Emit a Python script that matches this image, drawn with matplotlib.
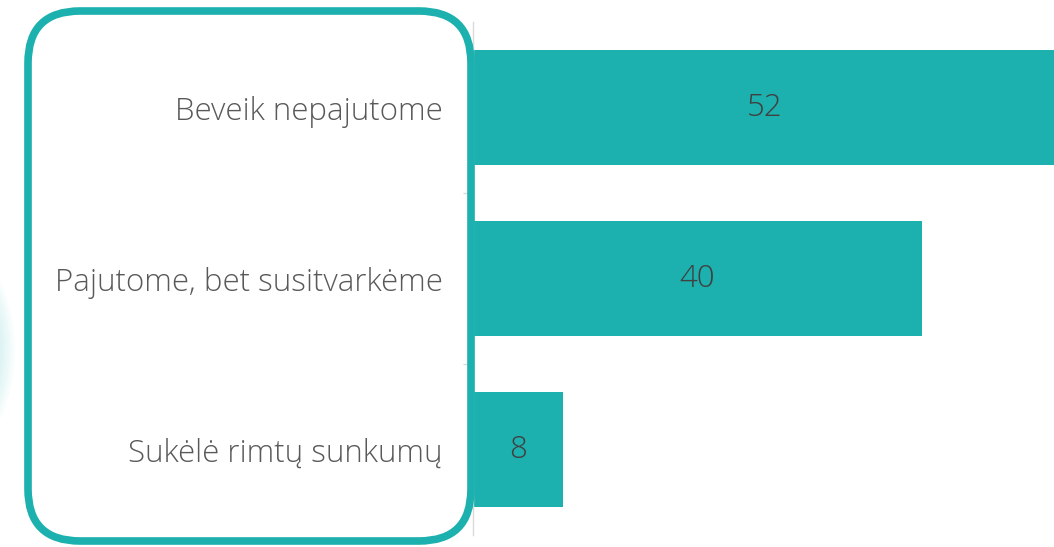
import matplotlib.pyplot as plt
import matplotlib.patches as mpatches
from matplotlib import font_manager

# data
categories = ["Beveik nepajutome", "Pajutome, bet susitvarkėme", "Sukėlė rimtų sunkumų"]
values = [52, 40, 8]

teal = "#1cb1af"
label_color = "#595959"
value_color = "#404040"

names = {f.name for f in font_manager.fontManager.ttflist}
family = ["Open Sans", "DejaVu Sans"] if "Open Sans" in names else ["DejaVu Sans"]
plt.rcParams["font.family"] = family

W, H = 1054, 547
fig = plt.figure(figsize=(W / 100, H / 100), dpi=100)

# main bar axes, placed in pixel terms
left, right, top, bottom = 473, 1054, 22, 535
ax = fig.add_axes([left / W, 1 - bottom / H, (right - left) / W, (bottom - top) / H])

y = list(range(len(categories)))
ax.barh(y, values, height=0.667, color=teal, zorder=2)
ax.set_ylim(len(categories) - 0.5, -0.5)
ax.set_xlim(0, 51.8)

for yi, v in zip(y, values):
    ax.text(v / 2, yi, str(v), ha="center", va="center", fontsize=22.5,
            color=value_color, fontweight="light", zorder=3)

ax.set_yticks(y)
ax.set_yticklabels(categories, fontsize=22.5, color=label_color, fontweight="light")
ax.tick_params(axis="y", which="major", length=0, pad=22)
ax.set_yticks([0.5, 1.5], minor=True)
ax.tick_params(axis="y", which="minor", length=7, color="#d9d9d9", width=1)
ax.set_xticks([])
for s in ["top", "right", "bottom"]:
    ax.spines[s].set_visible(False)
ax.spines["left"].set_color("#d9d9d9")
ax.spines["left"].set_linewidth(1)

# overlay in pixel coordinates for decorations
ov = fig.add_axes([0, 0, 1, 1], zorder=5)
ov.set_xlim(0, W)
ov.set_ylim(H, 0)
ov.axis("off")
ov.patch.set_alpha(0)

# faint glow at left edge
n = 14
for i in range(n):
    ov.add_patch(mpatches.Ellipse((-60, 350), 150 - i * 5, 230 - i * 8,
                                  facecolor=teal, edgecolor="none", alpha=0.025))

# rounded frame around labels
frame = mpatches.FancyBboxPatch((28, 11), 443, 530,
                                boxstyle="round,pad=0,rounding_size=52",
                                facecolor="none", edgecolor=teal, linewidth=5.5)
ov.add_patch(frame)

fig.savefig("out.png", dpi=100)
